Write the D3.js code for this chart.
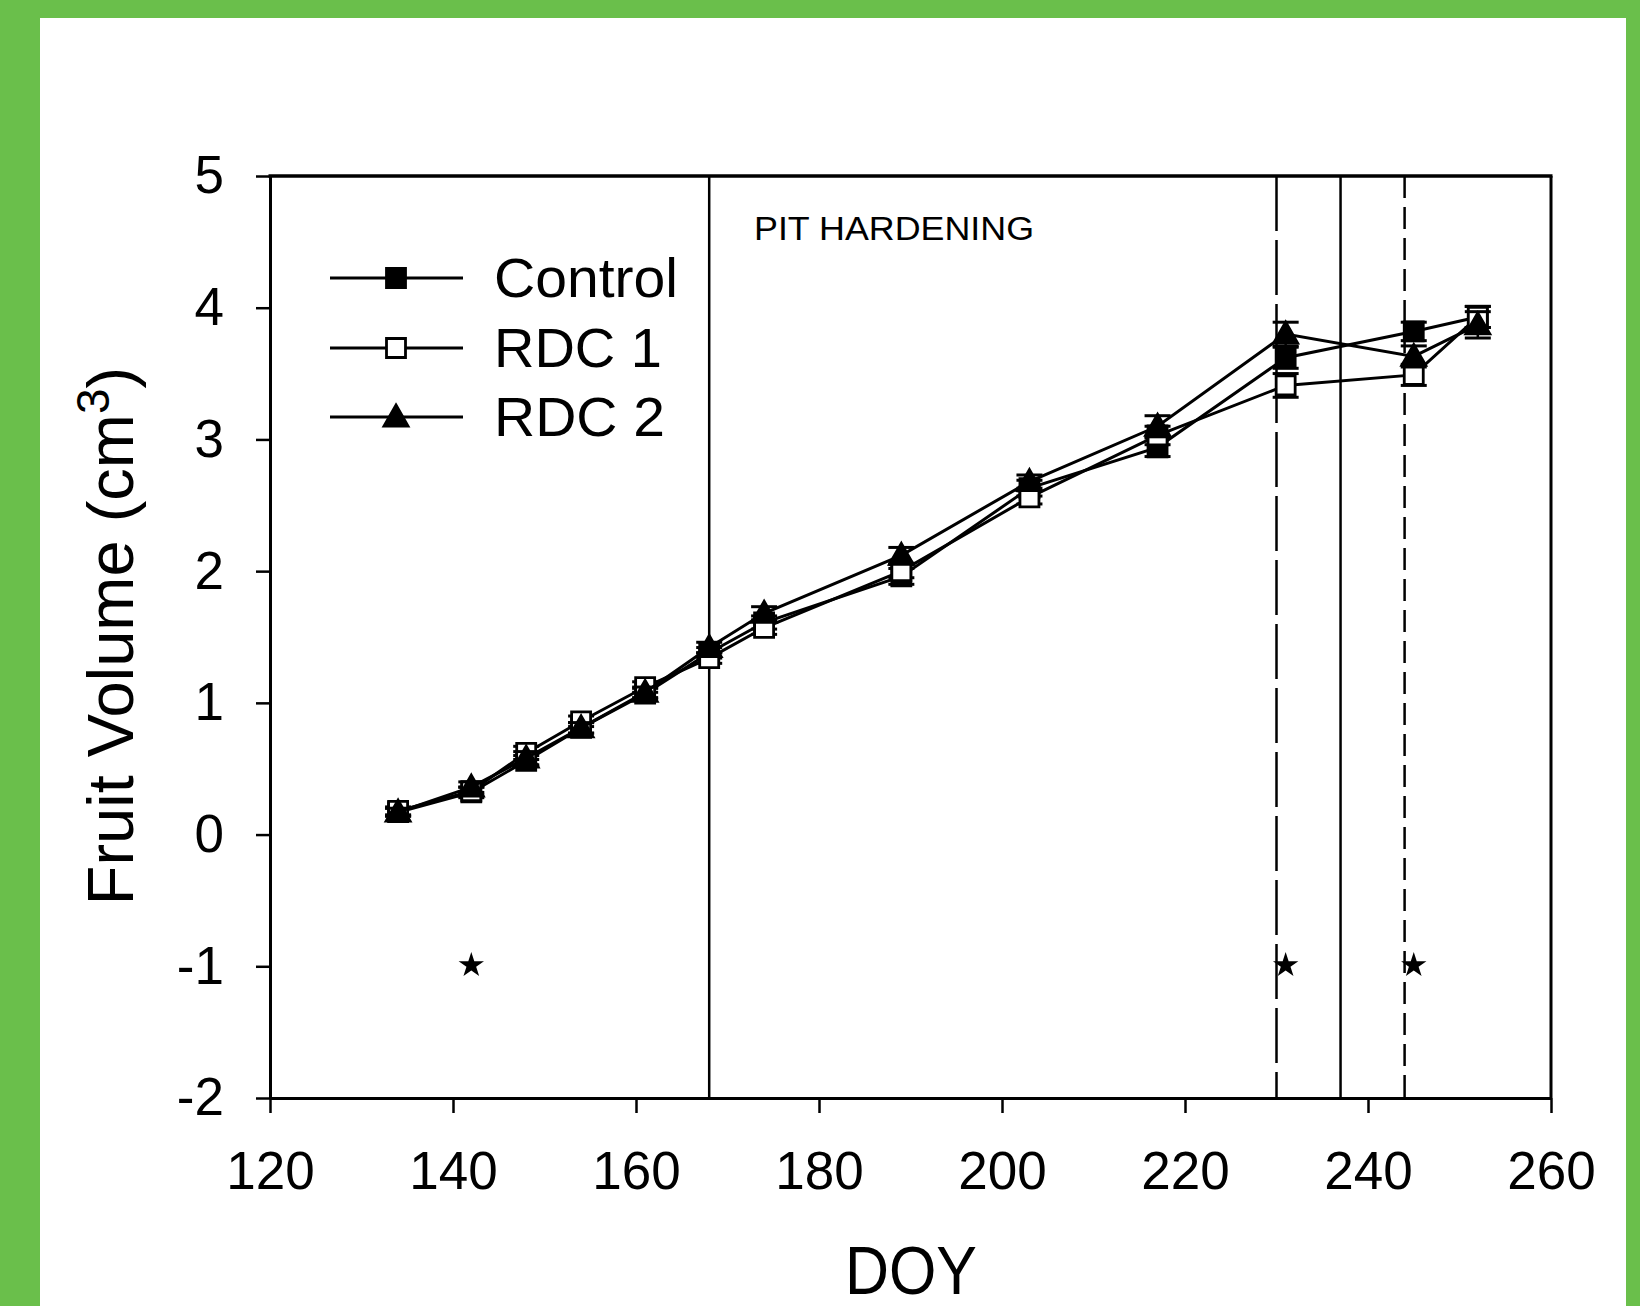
<!DOCTYPE html>
<html>
<head>
<meta charset="utf-8">
<script src="https://cdn.jsdelivr.net/npm/d3@7"></script>
<style>
  html, body { margin: 0; padding: 0; background: #6abf4b; }
  svg { display: block; }
  text { font-family: "Liberation Sans", Arial, sans-serif; fill: #000; }
</style>
</head>
<body>
<svg id="chart" width="1640" height="1306"></svg>
<script>
// ---- data ----
const doy = [134, 142, 148, 154, 161, 168, 174, 189, 203, 217, 231, 245, 252];
const control    = [0.17, 0.32, 0.56, 0.81, 1.07, 1.38, 1.61, 1.96, 2.63, 2.94, 3.62, 3.82, 3.93];
const controlErr = [0.03, 0.04, 0.04, 0.04, 0.04, 0.04, 0.05, 0.06, 0.06, 0.07, 0.08, 0.07, 0.08];
const rdc1       = [0.18, 0.33, 0.62, 0.86, 1.12, 1.34, 1.57, 2.00, 2.56, 3.03, 3.41, 3.49, 3.93];
const rdc1Err    = [0.03, 0.03, 0.05, 0.04, 0.04, 0.04, 0.05, 0.05, 0.05, 0.07, 0.09, 0.08, 0.08];
const rdc2       = [0.17, 0.36, 0.58, 0.81, 1.08, 1.42, 1.68, 2.12, 2.68, 3.10, 3.80, 3.63, 3.87];
const rdc2Err    = [0.03, 0.04, 0.05, 0.04, 0.04, 0.04, 0.05, 0.06, 0.05, 0.08, 0.09, 0.08, 0.10];
const seriesNames = ["Control", "RDC 1", "RDC 2"];
const starDoy = [142, 231, 245];
const starValue = -1;
const solidLines = [168, 237];
const dashedLines = [230, 244];
const xTicks = [120, 140, 160, 180, 200, 220, 240, 260];
const yTicks = [-2, -1, 0, 1, 2, 3, 4, 5];
const annotation = "PIT HARDENING";
const xTitle = "DOY";

// ---- layout ----
const svg = d3.select("#chart");
svg.append("rect").attr("x", 40).attr("y", 18).attr("width", 1586).attr("height", 1288).attr("fill", "#fff");

const pL = 270, pR = 1551, pT = 176, pB = 1098;
const x = d3.scaleLinear().domain([120, 260]).range([pL, pR]);
const y = d3.scaleLinear().domain([-2, 5]).range([pB, pT]);

// vertical reference lines
const g = svg.append("g");
solidLines.forEach(v => {
  g.append("line").attr("x1", x(v)).attr("x2", x(v)).attr("y1", pT).attr("y2", pB)
    .attr("stroke", "#000").attr("stroke-width", 2.5);
});
const dashes = ["55,9", "22,9"];
dashedLines.forEach((v, i) => {
  g.append("line").attr("x1", x(v)).attr("x2", x(v)).attr("y1", pT).attr("y2", pB)
    .attr("stroke", "#000").attr("stroke-width", 2.5).attr("stroke-dasharray", dashes[i]);
});

// axes
const fmt = d => String(d);
const xAxis = d3.axisBottom(x).tickValues(xTicks).tickFormat(fmt).tickSize(15).tickSizeOuter(0).tickPadding(38);
const yAxis = d3.axisLeft(y).tickValues(yTicks).tickFormat(fmt).tickSize(14).tickSizeOuter(0).tickPadding(32);
const gx = svg.append("g").attr("transform", `translate(0,${pB})`).call(xAxis);
const gy = svg.append("g").attr("transform", `translate(${pL},0)`).call(yAxis);
[gx, gy].forEach(a => {
  a.select(".domain").attr("stroke", "#000").attr("stroke-width", 3);
  a.selectAll(".tick line").attr("stroke", "#000").attr("stroke-width", 2.5);
  a.selectAll(".tick text").attr("font-size", 53).attr("font-family", "Liberation Sans, Arial, sans-serif").attr("fill", "#000");
});
gx.selectAll(".tick text").attr("dy", "0.71em");
// frame top/right
svg.append("line").attr("x1", pL - 1.5).attr("x2", pR + 1.5).attr("y1", pT).attr("y2", pT).attr("stroke", "#000").attr("stroke-width", 3.5);
svg.append("line").attr("x1", pR).attr("x2", pR).attr("y1", pT).attr("y2", pB).attr("stroke", "#000").attr("stroke-width", 3);

// titles
svg.append("text").attr("x", 911).attr("y", 1294).attr("text-anchor", "middle")
  .attr("font-size", 68).attr("textLength", 132).attr("lengthAdjust", "spacingAndGlyphs").text(xTitle);
const yl = svg.append("text").attr("transform", "translate(133,636) rotate(-90)").attr("text-anchor", "middle").attr("font-size", 65);
yl.append("tspan").text("Fruit Volume (cm");
yl.append("tspan").attr("dy", -24).attr("font-size", 46).text("3");
yl.append("tspan").attr("dy", 24).text(")");

svg.append("text").attr("x", 754).attr("y", 240).attr("font-size", 34)
  .attr("textLength", 280).attr("lengthAdjust", "spacingAndGlyphs").text(annotation);

// series
const data = [
  { name: seriesNames[0], v: control, e: controlErr, sym: "sq", fill: "#000", w: 184 },
  { name: seriesNames[1], v: rdc1, e: rdc1Err, sym: "sq", fill: "#fff", w: 168 },
  { name: seriesNames[2], v: rdc2, e: rdc2Err, sym: "tri", fill: "#000", w: 171 }
];
const line = d3.line().x((d, i) => x(doy[i])).y(d => y(d));
const sqPath = d3.symbol().type(d3.symbolSquare).size(19 * 19)();
const triPath = "M0,-12L12,9L-12,9Z";

function drawMarker(sel, s, cx, cy) {
  sel.append("path").attr("d", s.sym === "sq" ? sqPath : triPath)
    .attr("transform", `translate(${cx},${cy})`)
    .attr("fill", s.fill).attr("stroke", "#000").attr("stroke-width", 2.8);
}

const capW = 13;
data.forEach(s => {
  const sg = svg.append("g");
  sg.append("path").datum(s.v).attr("d", line).attr("fill", "none").attr("stroke", "#000").attr("stroke-width", 3);
  s.v.forEach((v, i) => {
    const cx = x(doy[i]);
    const y1 = y(v + s.e[i]), y2 = y(v - s.e[i]);
    sg.append("line").attr("x1", cx).attr("x2", cx).attr("y1", y1).attr("y2", y2).attr("stroke", "#000").attr("stroke-width", 2.5);
    [y1, y2].forEach(yy => sg.append("line").attr("x1", cx - capW).attr("x2", cx + capW).attr("y1", yy).attr("y2", yy).attr("stroke", "#000").attr("stroke-width", 3));
  });
  s.v.forEach((v, i) => drawMarker(sg, s, x(doy[i]), y(v)));
});

// significance stars
const star = d3.symbol().type(d3.symbolStar).size(200)();
starDoy.forEach(d => {
  svg.append("path").attr("d", star).attr("transform", `translate(${x(d)},${y(starValue) - 1})`).attr("fill", "#000");
});

// legend
const legY = [278, 348, 417];
data.forEach((s, i) => {
  const lg = svg.append("g");
  lg.append("line").attr("x1", 330).attr("x2", 463).attr("y1", legY[i]).attr("y2", legY[i]).attr("stroke", "#000").attr("stroke-width", 3);
  drawMarker(lg, s, 396, legY[i]);
  lg.append("text").attr("x", 494).attr("y", legY[i] + 19).attr("font-size", 55)
    .attr("textLength", s.w).attr("lengthAdjust", "spacingAndGlyphs").text(s.name);
});
</script>
</body>
</html>
